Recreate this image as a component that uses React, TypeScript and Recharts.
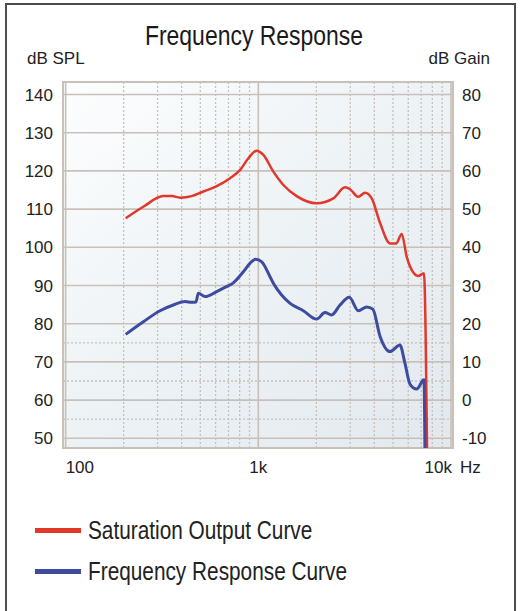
import React from 'react'
import {
  LineChart,
  Line,
  XAxis,
  YAxis,
  CartesianGrid,
  ReferenceLine,
  ReferenceArea,
  Legend,
} from 'recharts'

// Saturation output curve (Hz, dB SPL)
const satFreq = [205, 253, 321, 356, 393, 451, 518, 608, 713, 803, 888, 981, 1062, 1197, 1349, 1582, 2009, 2450, 2820, 2993, 3305, 3580, 3878, 4289, 4826, 5187, 5549, 5890, 6250, 6765, 7240, 7520]
const satSpl = [107.6, 110.6, 113.4, 113.4, 113.0, 113.4, 114.6, 116.0, 118.1, 120.2, 123.3, 125.3, 124.2, 119.8, 116.3, 113.4, 111.5, 112.8, 115.7, 115.2, 113.2, 114.3, 112.8, 106.3, 101.0, 101.0, 103.5, 97.5, 94.1, 92.5, 93.2, 45]

// Frequency response curve (Hz, dB SPL)
const respFreq = [205, 253, 309, 362, 417, 451, 475, 488, 529, 608, 671, 742, 836, 905, 968, 1042, 1150, 1197, 1321, 1462, 1713, 2009, 2218, 2403, 2655, 2966, 3305, 3656, 3928, 4289, 4826, 5431, 5770, 6124, 6634, 7240, 7330]
const respSpl = [77.2, 80.5, 83.4, 84.9, 85.8, 85.6, 85.7, 88.0, 87.1, 88.4, 89.5, 90.7, 93.6, 95.8, 96.9, 96.2, 92.3, 90.6, 87.5, 85.3, 83.4, 81.2, 82.9, 82.3, 84.9, 86.9, 83.4, 84.4, 83.8, 76.6, 72.7, 74.4, 69.6, 64.2, 62.9, 65.3, 45]

const seriesNames = ['Saturation Output Curve', 'Frequency Response Curve']
const splTicks = [50, 60, 70, 80, 90, 100, 110, 120, 130, 140]
const gainTicks = [-10, 0, 10, 20, 30, 40, 50, 60, 70, 80]
const freqTicks = [100, 1000, 10000]
const freqTickLabels = ['100', '1k', '10k']
const minorFreqs = [200, 300, 400, 500, 600, 700, 800, 900, 2000, 3000, 4000, 5000, 6000, 7000, 8000, 9000]
const minorLevels = [55, 65, 75]

const xDomain = [96.9, 10242]
const splDomain = [47.46, 143.27]
const gainDomain = [-12.54, 83.27]

const satData = satFreq.map((f, i) => ({ freq: f, spl: satSpl[i] }))
const respData = respFreq.map((f, i) => ({ freq: f, spl: respSpl[i] }))

const tickFont = "'Liberation Sans', Arial, sans-serif"
const gridColor = '#c9c0ba'

function FreqTick({ x, y, payload }: any) {
  const i = freqTicks.indexOf(payload.value)
  const style = { fontFamily: tickFont, fontSize: 17, fill: '#222' }
  if (i === 0) {
    return <text x={x} y={y} dy={17} textAnchor="start" {...style}>{freqTickLabels[i]}</text>
  }
  if (i === freqTicks.length - 1) {
    return (
      <g>
        <text x={x + 1} y={y} dy={17} textAnchor="end" {...style}>{freqTickLabels[i]}</text>
        <text x={x + 9} y={y} dy={17} textAnchor="start" {...style}>Hz</text>
      </g>
    )
  }
  return <text x={x} y={y} dy={17} textAnchor="middle" {...style}>{freqTickLabels[i]}</text>
}

function renderLegend({ payload }: any) {
  const items = [...(payload || [])].sort(
    (a: any, b: any) => seriesNames.indexOf(a.value) - seriesNames.indexOf(b.value)
  )
  return (
    <div style={{ paddingLeft: 35 }}>
      {items.map((entry: any) => (
        <div key={entry.value} style={{ display: 'flex', alignItems: 'center', height: 41 }}>
          <span style={{ display: 'inline-block', width: 46, height: 5, background: entry.color, marginRight: 7 }} />
          <span
            style={{
              display: 'inline-block',
              fontFamily: tickFont,
              fontSize: 26,
              color: '#222',
              lineHeight: '41px',
              whiteSpace: 'nowrap',
              transform: 'scaleX(0.8)',
              transformOrigin: 'left center',
            }}
          >
            {entry.value}
          </span>
        </div>
      ))}
    </div>
  )
}

export default function App() {
  return (
    <div style={{ position: 'absolute', left: 0, top: 0, width: 521, height: 611, background: '#fff', overflow: 'hidden' }}>
      {/* outer frame */}
      <div
        style={{
          position: 'absolute',
          left: 5,
          top: 3,
          width: 507,
          height: 640,
          borderTop: '2px solid #4d4d4d',
          borderLeft: '2px solid #4d4d4d',
          borderRight: '2px solid #4d4d4d',
        }}
      />
      <LineChart
        width={521}
        height={611}
        margin={{ top: 82, right: 0, bottom: 133, left: 0 }}
        style={{ position: 'absolute', left: 0, top: 0 }}
      >
        <defs>
          <linearGradient id="plotBg" x1="0" y1="0" x2="1" y2="1">
            <stop offset="0%" stopColor="#fdfefe" />
            <stop offset="45%" stopColor="#eef3f6" />
            <stop offset="100%" stopColor="#e2e9ee" />
          </linearGradient>
        </defs>
        <text
          transform="translate(254,45) scale(0.82,1)"
          textAnchor="middle"
          fontFamily={tickFont}
          fontSize={28}
          fill="#1a1a1a"
        >
          Frequency Response
        </text>
        <text x={27} y={64} textAnchor="start" fontFamily={tickFont} fontSize={17} fill="#222">
          dB SPL
        </text>
        <text x={490} y={64} textAnchor="end" fontFamily={tickFont} fontSize={17} fill="#222">
          dB Gain
        </text>

        <CartesianGrid
          yAxisId="spl"
          vertical={false}
          stroke={gridColor}
          strokeWidth={1.6}
          fill="url(#plotBg)"
          fillOpacity={1}
        />
        {minorLevels.map((v) => (
          <ReferenceLine key={`h${v}`} yAxisId="spl" y={v} stroke={gridColor} strokeWidth={1.3} strokeDasharray="2 2" />
        ))}
        {minorFreqs.map((f) => (
          <ReferenceLine key={`v${f}`} yAxisId="spl" x={f} stroke={gridColor} strokeWidth={1.3} strokeDasharray="2 2" />
        ))}
        {freqTicks.map((f) => (
          <ReferenceLine key={`m${f}`} yAxisId="spl" x={f} stroke={gridColor} strokeWidth={1.6} />
        ))}
        <ReferenceArea
          yAxisId="spl"
          x1={xDomain[0]}
          x2={xDomain[1]}
          y1={splDomain[0]}
          y2={splDomain[1]}
          fill="none"
          stroke={gridColor}
          strokeWidth={2}
          ifOverflow="visible"
        />

        <XAxis
          dataKey="freq"
          type="number"
          scale="log"
          domain={xDomain}
          ticks={freqTicks}
          allowDataOverflow
          axisLine={false}
          tickLine={false}
          height={30}
          tick={<FreqTick />}
        />
        <YAxis
          yAxisId="spl"
          orientation="left"
          type="number"
          domain={splDomain}
          ticks={splTicks}
          allowDataOverflow
          axisLine={false}
          tickLine={false}
          width={63}
          tickMargin={4}
          tick={{ fontFamily: tickFont, fontSize: 17, fill: '#222' }}
        />
        <YAxis
          yAxisId="gain"
          orientation="right"
          type="number"
          domain={gainDomain}
          ticks={gainTicks}
          allowDataOverflow
          axisLine={false}
          tickLine={false}
          width={68}
          tickMargin={3}
          tick={{ fontFamily: tickFont, fontSize: 17, fill: '#222', textAnchor: 'start' }}
        />

        <Line
          data={satData}
          yAxisId="spl"
          dataKey="spl"
          name={seriesNames[0]}
          stroke="#e2372b"
          strokeWidth={2.5}
          dot={false}
          activeDot={false}
          type="monotone"
          isAnimationActive={false}
        />
        <Line
          data={respData}
          yAxisId="spl"
          dataKey="spl"
          name={seriesNames[1]}
          stroke="#3d4c9e"
          strokeWidth={3}
          dot={false}
          activeDot={false}
          type="monotone"
          isAnimationActive={false}
        />
        <Legend
          layout="horizontal"
          verticalAlign="middle"
          align="center"
          wrapperStyle={{ left: 0, top: 510, width: 521 }}
          content={renderLegend}
        />
      </LineChart>
    </div>
  )
}
